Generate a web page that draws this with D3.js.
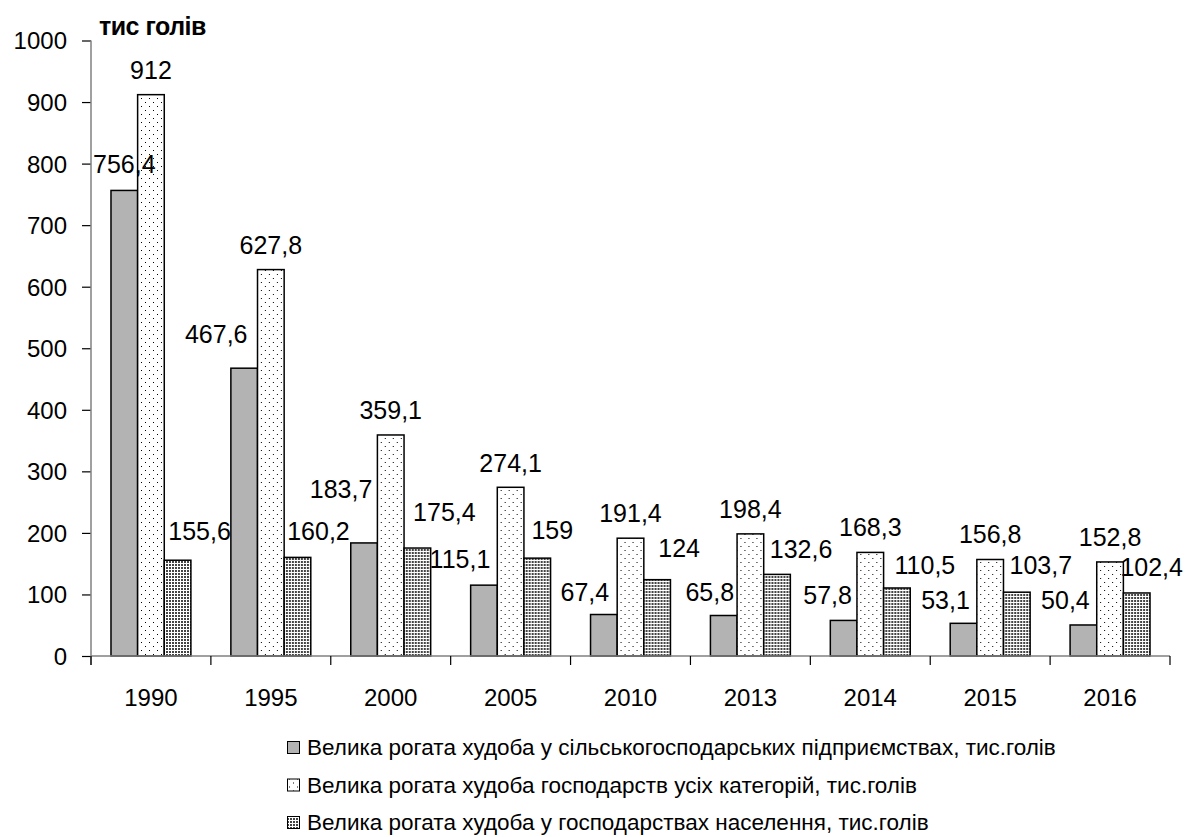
<!DOCTYPE html>
<html>
<head>
<meta charset="utf-8">
<script src="https://cdn.jsdelivr.net/npm/d3@7"></script>
<style>
    body { margin: 0; background: #fff; }
    svg { display: block; font-family: "Liberation Sans", Arial, sans-serif; }
</style>
</head>
<body>
<svg id="chart" width="1186" height="837"></svg>
<script>
// Велика рогата худоба, тис. голів

const years = ["1990", "1995", "2000", "2005", "2010", "2013", "2014", "2015", "2016"];

const seriesNames = [
    "Велика рогата худоба у сільськогосподарських підприємствах, тис.голів",
    "Велика рогата худоба господарств усіх категорій, тис.голів",
    "Велика рогата худоба у господарствах населення, тис.голів"
];

const agriValues = [756.4, 467.6, 183.7, 115.1, 67.4, 65.8, 57.8, 53.1, 50.4];
const allValues = [912, 627.8, 359.1, 274.1, 191.4, 198.4, 168.3, 156.8, 152.8];
const householdValues = [155.6, 160.2, 175.4, 159, 124, 132.6, 110.5, 103.7, 102.4];

const yTicks = [0, 100, 200, 300, 400, 500, 600, 700, 800, 900, 1000];

// Підписи даних були зсунуті вручну (зсув від центру/верху стовпця, px)
const labelDx = [
    [0, -28, -23, -24, -19, -14, -16, -18, -18],
    [0, 0, 0, 0, 0, 0, 0, 0, 0],
    [22, 21, 27, 15, 22, 24, 28, 24, 15]
];
const labelDy = [
    [-17, -25, -45, -17, -14, -15, -16, -14, -16],
    [-16, -16, -16, -15, -16, -16, -16, -16, -16],
    [-20, -17, -27, -19, -23, -16, -14, -18, -17]
];

const seriesValues = [agriValues, allValues, householdValues];
const fills = ["#b3b3b3", "url(#dots-sparse)", "url(#dots-dense)"];

const svg = d3.select("#chart");

// Візерунки заливки
const defs = svg.append("defs");

const sparse = defs.append("pattern")
    .attr("id", "dots-sparse")
    .attr("patternUnits", "userSpaceOnUse")
    .attr("width", 8).attr("height", 8);
sparse.append("rect").attr("width", 8).attr("height", 8).attr("fill", "#fff");
sparse.append("rect").attr("x", 2).attr("y", 2).attr("width", 1).attr("height", 1).attr("fill", "#000");
sparse.append("rect").attr("x", 6).attr("y", 6).attr("width", 1).attr("height", 1).attr("fill", "#000");

const dense = defs.append("pattern")
    .attr("id", "dots-dense")
    .attr("patternUnits", "userSpaceOnUse")
    .attr("width", 3).attr("height", 3);
dense.append("rect").attr("width", 3).attr("height", 3).attr("fill", "#fff");
dense.append("rect").attr("width", 2).attr("height", 2).attr("fill", "#444");

// Шкали
const x = d3.scaleBand()
    .domain(years)
    .range([91, 1170])
    .paddingInner(0)
    .paddingOuter(0);

const xSub = d3.scaleBand()
    .domain([0, 1, 2])
    .range([x.bandwidth() / 6, x.bandwidth() * 5 / 6]);

const y = d3.scaleLinear()
    .domain([0, 1000])
    .range([656, 40.5]);

const fmt = v => String(v).replace(".", ",");

// Вісь Y
const yAxis = svg.append("g")
    .attr("transform", "translate(91,0)")
    .call(d3.axisLeft(y)
        .tickValues(yTicks)
        .tickFormat(d3.format("d"))
        .tickSize(9)
        .tickSizeOuter(0)
        .tickPadding(15));

yAxis.select(".domain").remove();
yAxis.selectAll(".tick line").attr("stroke", "#000").attr("stroke-width", 1.2);
yAxis.selectAll(".tick text")
    .attr("fill", "#000")
    .attr("dy", "0.35em")
    .style("font-size", "24px")
    .style("font-family", "Liberation Sans, Arial, sans-serif");

svg.append("line")
    .attr("x1", 91).attr("x2", 91)
    .attr("y1", y(1000)).attr("y2", y(0) + 9)
    .attr("stroke", "#808080").attr("stroke-width", 1.5);

// Стовпці
const groups = svg.append("g")
    .selectAll("g")
    .data(years)
    .join("g")
    .attr("transform", d => `translate(${x(d)},0)`);

seriesValues.forEach((values, s) => {
    groups.append("rect")
        .attr("x", xSub(s))
        .attr("y", (d, i) => y(values[i]))
        .attr("width", xSub.bandwidth())
        .attr("height", (d, i) => y(0) - y(values[i]))
        .attr("fill", fills[s])
        .attr("stroke", "#000")
        .attr("stroke-width", 1.5);
});

// Вісь X
svg.append("line")
    .attr("x1", 91).attr("x2", x.range()[1])
    .attr("y1", y(0)).attr("y2", y(0))
    .attr("stroke", "#808080").attr("stroke-width", 1.5);

svg.append("g")
    .selectAll("line")
    .data([...years.map(d => x(d)), x.range()[1]])
    .join("line")
    .attr("x1", d => d).attr("x2", d => d)
    .attr("y1", y(0)).attr("y2", y(0) + 9)
    .attr("stroke", "#000").attr("stroke-width", 1.2);

svg.append("g")
    .selectAll("text")
    .data(years)
    .join("text")
    .attr("x", d => x(d) + x.bandwidth() / 2)
    .attr("y", 706)
    .attr("text-anchor", "middle")
    .style("font-size", "24px")
    .text(d => d);

// Підписи даних
seriesValues.forEach((values, s) => {
    groups.append("text")
        .attr("x", (d, i) => xSub(s) + xSub.bandwidth() / 2 + labelDx[s][i])
        .attr("y", (d, i) => y(values[i]) + labelDy[s][i])
        .attr("text-anchor", "middle")
        .style("font-size", "25px")
        .text((d, i) => fmt(values[i]));
});

// Заголовок осі
svg.append("text")
    .attr("x", 99)
    .attr("y", 35)
    .style("font-size", "25px")
    .style("font-weight", "bold")
    .style("letter-spacing", "-0.5px")
    .text("тис голів");

// Легенда
const legend = svg.append("g")
    .selectAll("g")
    .data(seriesNames)
    .join("g")
    .attr("transform", (d, i) => `translate(287,${755 + i * 37.5})`);

legend.append("rect")
    .attr("x", 0.5)
    .attr("y", -13.5)
    .attr("width", 12)
    .attr("height", 12)
    .attr("fill", (d, i) => fills[i])
    .attr("stroke", "#000")
    .attr("stroke-width", 1);

legend.append("text")
    .attr("x", 20)
    .attr("y", 0)
    .style("font-size", "22.5px")
    .text(d => d);
</script>
</body>
</html>
